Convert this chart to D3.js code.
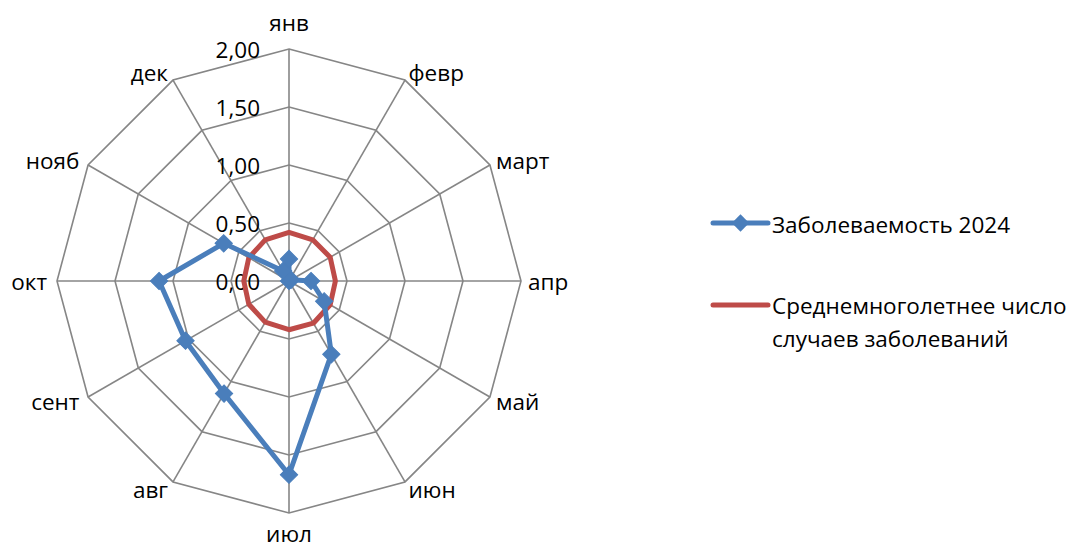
<!DOCTYPE html>
<html>
<head>
<meta charset="utf-8">
<script src="https://cdn.jsdelivr.net/npm/d3@7/dist/d3.min.js"></script>
<style>
  html, body { margin: 0; padding: 0; background: #fff; }
  svg text { font-family: "Open Sans", "Noto Sans", sans-serif; fill: #000; }
</style>
</head>
<body>
<svg id="chart" width="1076" height="548"></svg>
<script>
// Months (categories around the radar)
const months = ["янв", "февр", "март", "апр", "май", "июн", "июл", "авг", "сент", "окт", "нояб", "дек"];
// Incidence in 2024
const incidence2024 = [0.19, 0.00, 0.02, 0.19, 0.35, 0.73, 1.67, 1.12, 1.03, 1.12, 0.65, 0.10];
// Long-term average number of cases
const longTermAverage = [0.42, 0.41, 0.41, 0.40, 0.41, 0.42, 0.42, 0.41, 0.40, 0.39, 0.40, 0.41];
// Radial ticks
const tickValues = [0, 0.5, 1.0, 1.5, 2.0];
const tickLabels = ["0,00", "0,50", "1,00", "1,50", "2,00"];
const seriesNames = ["Заболеваемость 2024", ["Среднемноголетнее число", "случаев заболеваний"]];

const svg = d3.select("#chart");
const cx = 289, cy = 281;
const fontSize = 22.5;
const r = d3.scaleLinear().domain([0, 2]).range([0, 232]);
const angle = d3.scaleLinear().domain([0, months.length]).range([0, 2 * Math.PI]);

const g = svg.append("g").attr("transform", `translate(${cx},${cy})`);
const px = (i, v) => Math.sin(angle(i)) * r(v);
const py = (i, v) => -Math.cos(angle(i)) * r(v);

const gridColor = "#868686";

// Concentric polygon rings
const ringLine = d3.line().x(d => d[0]).y(d => d[1]).curve(d3.curveLinearClosed);
tickValues.filter(t => t > 0).forEach(t => {
  g.append("path")
    .attr("d", ringLine(months.map((m, i) => [px(i, t), py(i, t)])))
    .attr("fill", "none")
    .attr("stroke", gridColor)
    .attr("stroke-width", 1.6);
});

// Spokes
months.forEach((m, i) => {
  g.append("line")
    .attr("x1", 0).attr("y1", 0)
    .attr("x2", px(i, 2)).attr("y2", py(i, 2))
    .attr("stroke", gridColor)
    .attr("stroke-width", 1.6);
});

// Radial tick labels along the top spoke
tickValues.forEach((t, k) => {
  g.append("text")
    .attr("x", -29)
    .attr("y", -r(t))
    .attr("text-anchor", "end")
    .attr("dominant-baseline", "central")
    .attr("font-size", fontSize)
    .text(tickLabels[k]);
});

// Month labels outside the outer ring
months.forEach((m, i) => {
  const a = angle(i);
  const s = Math.sin(a), c = Math.cos(a);
  const vx = px(i, 2), vy = py(i, 2);
  let anchor = "middle", dx = 0;
  if (s > 0.01) { anchor = "start"; dx = 7 * s; }
  else if (s < -0.01) { anchor = "end"; dx = 10 * s; }
  let dy = -c * 9;
  if (Math.abs(s) < 0.01) dy += c > 0 ? -18 : 11;
  g.append("text")
    .attr("x", vx + dx)
    .attr("y", vy + dy)
    .attr("text-anchor", anchor)
    .attr("dominant-baseline", "central")
    .attr("font-size", fontSize)
    .text(m);
});

const seriesLine = d3.line().x(d => d[0]).y(d => d[1]).curve(d3.curveLinearClosed);
const blue = "#4A7EBB", red = "#BE4B48";

// Long-term average
g.append("path")
  .attr("d", seriesLine(longTermAverage.map((v, i) => [px(i, v), py(i, v)])))
  .attr("fill", "none")
  .attr("stroke", red)
  .attr("stroke-width", 5)
  .attr("stroke-linejoin", "round");

// 2024 incidence with diamond markers
g.append("path")
  .attr("d", seriesLine(incidence2024.map((v, i) => [px(i, v), py(i, v)])))
  .attr("fill", "none")
  .attr("stroke", blue)
  .attr("stroke-width", 5)
  .attr("stroke-linejoin", "round");

const diamond = d3.symbol().type(d3.symbolSquare).size(150);
g.selectAll(".marker")
  .data(incidence2024)
  .join("path")
  .attr("class", "marker")
  .attr("d", diamond)
  .attr("transform", (v, i) => `translate(${px(i, v)},${py(i, v)}) rotate(45)`)
  .attr("fill", blue)
  .attr("stroke", blue)
  .attr("stroke-width", 1);

// Legend
const legend = svg.append("g").attr("transform", "translate(713,0)");
legend.append("line")
  .attr("x1", 0).attr("x2", 55).attr("y1", 223).attr("y2", 223)
  .attr("stroke", blue).attr("stroke-width", 5).attr("stroke-linecap", "round");
legend.append("path")
  .attr("d", diamond)
  .attr("transform", "translate(27.5,223) rotate(45)")
  .attr("fill", blue);
legend.append("text")
  .attr("x", 59).attr("y", 224)
  .attr("dominant-baseline", "central")
  .attr("font-size", fontSize)
  .text(seriesNames[0]);

legend.append("line")
  .attr("x1", 0).attr("x2", 55).attr("y1", 305).attr("y2", 305)
  .attr("stroke", red).attr("stroke-width", 5).attr("stroke-linecap", "round");
seriesNames[1].forEach((s, k) => {
  legend.append("text")
    .attr("x", 59).attr("y", 305 + k * 33)
    .attr("dominant-baseline", "central")
    .attr("font-size", fontSize)
    .text(s);
});
</script>
</body>
</html>
